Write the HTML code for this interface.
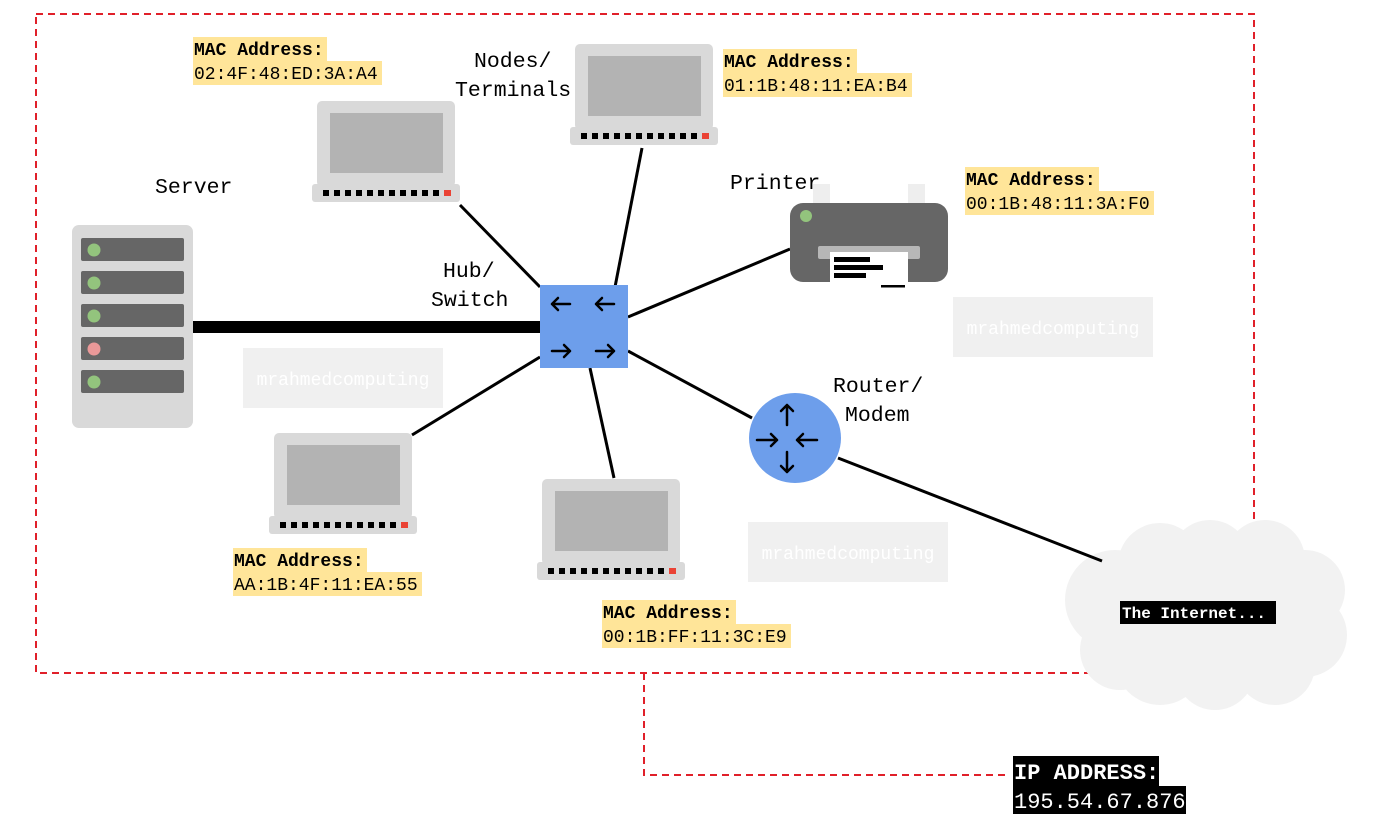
<!DOCTYPE html>
<html><head><meta charset="utf-8"><style>
html,body{margin:0;padding:0;background:#fff;}
svg{display:block;}
text{font-family:"Liberation Mono",monospace;}
</style></head><body>
<svg width="1381" height="838" viewBox="0 0 1381 838" xmlns="http://www.w3.org/2000/svg">
<defs>
<g id="lap">
<rect x="0" y="0" width="138" height="86" rx="5" fill="#d9d9d9"/>
<rect x="13" y="12" width="113" height="60" fill="#b3b3b3"/>
<rect x="-5" y="83" width="148" height="18" rx="3" fill="#d9d9d9"/>
<g fill="#000">
<rect x="6" y="89" width="6" height="6"/><rect x="17" y="89" width="6" height="6"/><rect x="28" y="89" width="6" height="6"/><rect x="39" y="89" width="6" height="6"/><rect x="50" y="89" width="6" height="6"/><rect x="61" y="89" width="6" height="6"/><rect x="72" y="89" width="6" height="6"/><rect x="83" y="89" width="6" height="6"/><rect x="94" y="89" width="6" height="6"/><rect x="105" y="89" width="6" height="6"/><rect x="116" y="89" width="6" height="6"/>
</g>
<rect x="127" y="89" width="7" height="6" fill="#ea4335"/>
</g>
</defs>

<g fill="none" stroke="#e0202a" stroke-width="2" stroke-dasharray="7,5">
<rect x="36" y="14" width="1218" height="659"/>
<polyline points="644,673 644,775 1010,775"/>
</g>

<rect x="243" y="348" width="200" height="60" fill="#f0f0f0"/>
<text x="343" y="385" font-size="18" fill="#fff" text-anchor="middle">mrahmedcomputing</text>
<rect x="953" y="297" width="200" height="60" fill="#f0f0f0"/>
<text x="1053" y="334" font-size="18" fill="#fff" text-anchor="middle">mrahmedcomputing</text>
<rect x="748" y="522" width="200" height="60" fill="#f0f0f0"/>
<text x="848" y="559" font-size="18" fill="#fff" text-anchor="middle">mrahmedcomputing</text>

<g fill="#f2f2f2">
<circle cx="1115" cy="600" r="50"/><circle cx="1160" cy="565" r="42"/><circle cx="1210" cy="560" r="40"/><circle cx="1265" cy="560" r="40"/><circle cx="1305" cy="590" r="40"/><circle cx="1305" cy="635" r="42"/><circle cx="1275" cy="665" r="40"/><circle cx="1215" cy="670" r="40"/><circle cx="1160" cy="660" r="45"/><circle cx="1120" cy="650" r="40"/><ellipse cx="1210" cy="615" rx="100" ry="55"/>
</g>

<g stroke="#000" stroke-width="3" fill="none">
<line x1="193" y1="327" x2="540" y2="327" stroke-width="12"/>
<line x1="460" y1="205" x2="540" y2="287"/>
<line x1="642" y1="148" x2="615" y2="287"/>
<line x1="628" y1="317" x2="790" y2="249"/>
<line x1="628" y1="351" x2="752" y2="418"/>
<line x1="540" y1="357" x2="412" y2="435"/>
<line x1="590" y1="368" x2="614" y2="478"/>
<line x1="838" y1="458" x2="1102" y2="561"/>
</g>

<use href="#lap" x="575" y="44"/>
<use href="#lap" x="317" y="101"/>
<use href="#lap" x="274" y="433"/>
<use href="#lap" x="542" y="479"/>

<rect x="72" y="225" width="121" height="203" rx="7" fill="#d9d9d9"/>
<g fill="#666">
<rect x="81" y="238" width="103" height="23" rx="2"/><rect x="81" y="271" width="103" height="23" rx="2"/><rect x="81" y="304" width="103" height="23" rx="2"/><rect x="81" y="337" width="103" height="23" rx="2"/><rect x="81" y="370" width="103" height="23" rx="2"/>
</g>
<circle cx="94" cy="250" r="6.5" fill="#93c47d"/><circle cx="94" cy="283" r="6.5" fill="#93c47d"/><circle cx="94" cy="316" r="6.5" fill="#93c47d"/><circle cx="94" cy="349" r="6.5" fill="#ea9999"/><circle cx="94" cy="382" r="6.5" fill="#93c47d"/>

<rect x="540" y="285" width="88" height="83" fill="#6d9eeb"/>
<g stroke="#000" stroke-width="2.5" fill="none" stroke-linecap="round">
<path d="M552 304h18M552 304l6-6M552 304l6 6"/>
<path d="M596 304h18M596 304l6-6M596 304l6 6"/>
<path d="M552 351h18M570 351l-6-6M570 351l-6 6"/>
<path d="M596 351h18M614 351l-6-6M614 351l-6 6"/>
</g>

<ellipse cx="795" cy="438" rx="46" ry="45" fill="#6d9eeb"/>
<g stroke="#000" stroke-width="2.5" fill="none" stroke-linecap="round">
<path d="M787 405v20M787 405l-6 6M787 405l6 6"/>
<path d="M787 452v20M787 472l-6-6M787 472l6-6"/>
<path d="M757 440h20M777 440l-6-6M777 440l-6 6"/>
<path d="M797 440h20M797 440l6-6M797 440l6 6"/>
</g>

<rect x="813" y="184" width="17" height="22" fill="#eee"/>
<rect x="908" y="184" width="17" height="22" fill="#eee"/>
<rect x="790" y="203" width="158" height="79" rx="13" fill="#666"/>
<circle cx="806" cy="216" r="6" fill="#93c47d"/>
<rect x="818" y="246" width="102" height="13" rx="2" fill="#b7b7b7"/>
<rect x="830" y="252" width="78" height="36" fill="#fff"/>
<rect x="834" y="257" width="36" height="5" fill="#000"/>
<rect x="834" y="265" width="49" height="5" fill="#000"/>
<rect x="834" y="273" width="32" height="5" fill="#000"/>
<rect x="881" y="285" width="24" height="2.5" fill="#000"/>

<g font-size="21.5" fill="#000">
<text x="155" y="193">Server</text>
<text x="474" y="67">Nodes/</text>
<text x="455" y="96">Terminals</text>
<text x="443" y="277">Hub/</text>
<text x="431" y="306">Switch</text>
<text x="730" y="189">Printer</text>
<text x="833" y="392">Router/</text>
<text x="845" y="421">Modem</text>
</g>

<g font-size="18">
<rect x="193" y="37" width="134" height="24" fill="#ffe599"/><rect x="193" y="61" width="189" height="24" fill="#ffe599"/>
<text x="194" y="55" font-weight="bold">MAC Address:</text><text x="194" y="79">02:4F:48:ED:3A:A4</text>
<rect x="723" y="49" width="134" height="24" fill="#ffe599"/><rect x="723" y="73" width="189" height="24" fill="#ffe599"/>
<text x="724" y="67" font-weight="bold">MAC Address:</text><text x="724" y="91">01:1B:48:11:EA:B4</text>
<rect x="965" y="167" width="134" height="24" fill="#ffe599"/><rect x="965" y="191" width="189" height="24" fill="#ffe599"/>
<text x="966" y="185" font-weight="bold">MAC Address:</text><text x="966" y="209">00:1B:48:11:3A:F0</text>
<rect x="233" y="548" width="134" height="24" fill="#ffe599"/><rect x="233" y="572" width="189" height="24" fill="#ffe599"/>
<text x="234" y="566" font-weight="bold">MAC Address:</text><text x="234" y="590">AA:1B:4F:11:EA:55</text>
<rect x="602" y="600" width="134" height="24" fill="#ffe599"/><rect x="602" y="624" width="189" height="24" fill="#ffe599"/>
<text x="603" y="618" font-weight="bold">MAC Address:</text><text x="603" y="642">00:1B:FF:11:3C:E9</text>
</g>

<rect x="1120" y="601" width="156" height="23" fill="#000"/>
<text x="1122" y="618" font-size="16" font-weight="bold" fill="#fff">The Internet...</text>

<rect x="1013" y="756" width="146" height="30" fill="#000"/>
<rect x="1013" y="786" width="173" height="28" fill="#000"/>
<text x="1014" y="779" font-size="22" font-weight="bold" fill="#fff">IP ADDRESS:</text>
<text x="1014" y="808" font-size="22" fill="#fff">195.54.67.876</text>
</svg>
</body></html>
